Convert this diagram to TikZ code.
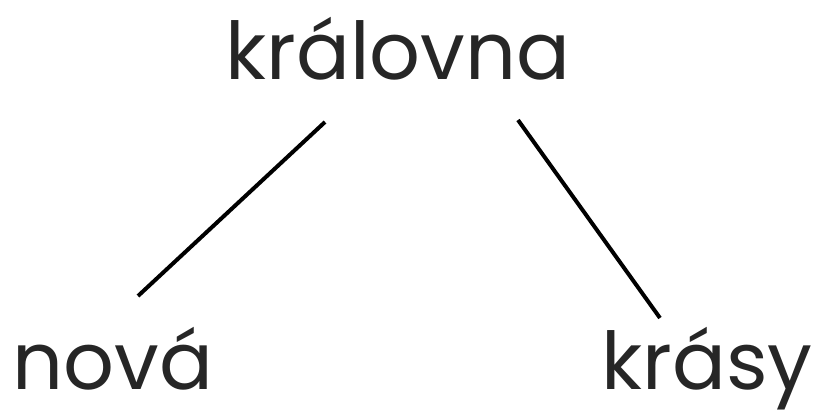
\documentclass[tikz,border=0pt]{standalone}
\usepackage{fontspec}
\setmainfont{Poppins}
\usepackage{tikz}
\usetikzlibrary{positioning}

\begin{document}
\begin{tikzpicture}[
    x=0.03cm, y=-0.03cm,
    word/.style={anchor=base, inner sep=0pt, font=\fontsize{68}{76}\selectfont, text=black!85},
    edge/.style={line width=3.4pt}
]
    \useasboundingbox (0,0) rectangle (813,417);

    % Words
    \node[word] (kralovna) at (398,79) {královna};
    \node[word] (nova) at (113,389) {nová};
    \node[word] (krasy) at (707,389) {krásy};

    % Line ends
    \coordinate (kl) at (325,122);
    \coordinate (kr) at (518,120);
    \coordinate (nt) at (138,296);
    \coordinate (st) at (660,318);

    % Connections
    \draw[edge] (kl) -- (nt);
    \draw[edge] (kr) -- (st);
\end{tikzpicture}
\end{document}
